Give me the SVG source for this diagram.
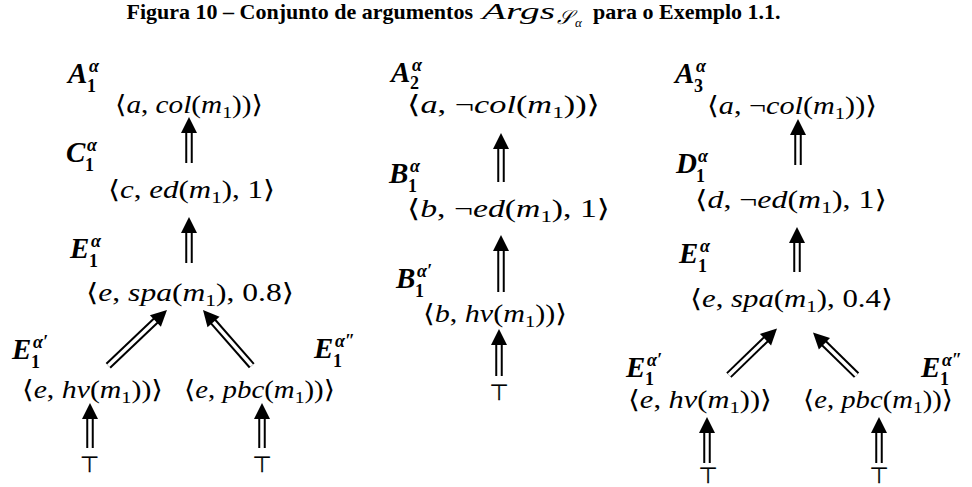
<svg xmlns="http://www.w3.org/2000/svg" xmlns:xlink="http://www.w3.org/1999/xlink" width="972" height="487" viewBox="0 0 972 487">
<style>
text{font-family:"Liberation Serif","DejaVu Serif",serif;fill:#000}
.title{font-weight:bold;font-size:22px}
.m{font-style:italic;font-size:23px}
.ms{font-style:italic;font-size:20px}
.ma{font-style:italic;font-size:13px}
.lbl{font-weight:bold;font-style:italic;font-size:29px}
.sp{font-style:italic;font-size:18px}
.sb{font-style:normal;font-size:18px}
.f{font-size:25px}
.i{font-style:italic}
.s{font-size:17px}
.top{font-family:"DejaVu Sans",sans-serif;font-size:22px;font-weight:normal;stroke:#000;stroke-width:0.3}
.dbl{stroke:#000;stroke-width:7.5}
.gap{stroke:#fff;stroke-width:3.5}
</style>
<defs>
<path id="hd" d="M0,0 L-8,16 L8,16 Z" fill="#000"/>
</defs>
<rect width="972" height="487" fill="#fff"/>
<g id="title">
<text class="title" x="473" y="19" text-anchor="end">Figura 10 – Conjunto de argumentos</text>
<text class="m" x="482" y="19" textLength="73" lengthAdjust="spacingAndGlyphs">Args</text>
<text class="ms" x="557" y="24">𝒮</text>
<text class="ma" x="575" y="27">α</text>
<text class="title" x="593" y="19">para o Exemplo 1.1.</text>
</g>

<g id="connectors">
<g transform="translate(189,117)"><line class="dbl" x1="0" y1="15" x2="0" y2="46"/><line class="gap" x1="0" y1="15" x2="0" y2="46"/><use href="#hd"/></g>
<g transform="translate(189,217)"><line class="dbl" x1="0" y1="15" x2="0" y2="46"/><line class="gap" x1="0" y1="15" x2="0" y2="46"/><use href="#hd"/></g>
<g transform="translate(167,310) rotate(46.5)"><line class="dbl" x1="0" y1="15" x2="0" y2="81"/><line class="gap" x1="0" y1="15" x2="0" y2="81"/><use href="#hd"/></g>
<g transform="translate(203,310) rotate(-41.2)"><line class="dbl" x1="0" y1="15" x2="0" y2="74"/><line class="gap" x1="0" y1="15" x2="0" y2="74"/><use href="#hd"/></g>
<g transform="translate(90,403)"><line class="dbl" x1="0" y1="15" x2="0" y2="45"/><line class="gap" x1="0" y1="15" x2="0" y2="45"/><use href="#hd"/></g>
<g transform="translate(262,403)"><line class="dbl" x1="0" y1="15" x2="0" y2="45"/><line class="gap" x1="0" y1="15" x2="0" y2="45"/><use href="#hd"/></g>
<g transform="translate(501,133)"><line class="dbl" x1="0" y1="15" x2="0" y2="49"/><line class="gap" x1="0" y1="15" x2="0" y2="49"/><use href="#hd"/></g>
<g transform="translate(501,235)"><line class="dbl" x1="0" y1="15" x2="0" y2="57"/><line class="gap" x1="0" y1="15" x2="0" y2="57"/><use href="#hd"/></g>
<g transform="translate(499,329)"><line class="dbl" x1="0" y1="15" x2="0" y2="47"/><line class="gap" x1="0" y1="15" x2="0" y2="47"/><use href="#hd"/></g>
<g transform="translate(798,119)"><line class="dbl" x1="0" y1="15" x2="0" y2="46"/><line class="gap" x1="0" y1="15" x2="0" y2="46"/><use href="#hd"/></g>
<g transform="translate(797,227)"><line class="dbl" x1="0" y1="15" x2="0" y2="45"/><line class="gap" x1="0" y1="15" x2="0" y2="45"/><use href="#hd"/></g>
<g transform="translate(777,328.5) rotate(45.9)"><line class="dbl" x1="0" y1="15" x2="0" y2="67"/><line class="gap" x1="0" y1="15" x2="0" y2="67"/><use href="#hd"/></g>
<g transform="translate(813,332.5) rotate(-45.6)"><line class="dbl" x1="0" y1="15" x2="0" y2="61"/><line class="gap" x1="0" y1="15" x2="0" y2="61"/><use href="#hd"/></g>
<g transform="translate(707,417)"><line class="dbl" x1="0" y1="15" x2="0" y2="46"/><line class="gap" x1="0" y1="15" x2="0" y2="46"/><use href="#hd"/></g>
<g transform="translate(879,417)"><line class="dbl" x1="0" y1="15" x2="0" y2="46"/><line class="gap" x1="0" y1="15" x2="0" y2="46"/><use href="#hd"/></g>
</g>

<!-- Left tree -->
<g id="L-A1">
<text class="lbl" x="68" y="83">A<tspan class="sp" x="89" y="72">α</tspan><tspan class="sb" x="87" y="92">1</tspan></text>
<text class="f" x="189" y="113" text-anchor="middle" textLength="148" lengthAdjust="spacingAndGlyphs">⟨<tspan class="i">a</tspan>, <tspan class="i">col</tspan>(<tspan class="i">m</tspan><tspan class="s" dy="5">1</tspan><tspan dy="-5">))⟩</tspan></text>
</g>
<g id="L-C1">
<text class="lbl" x="66" y="162">C<tspan class="sp" x="87" y="151">α</tspan><tspan class="sb" x="85" y="171">1</tspan></text>
<text class="f" x="191.5" y="198" text-anchor="middle" textLength="167" lengthAdjust="spacingAndGlyphs">⟨<tspan class="i">c</tspan>, <tspan class="i">ed</tspan>(<tspan class="i">m</tspan><tspan class="s" dy="5">1</tspan><tspan dy="-5">), 1⟩</tspan></text>
</g>
<g id="L-E1">
<text class="lbl" x="70" y="258">E<tspan class="sp" x="91" y="247">α</tspan><tspan class="sb" x="89" y="267">1</tspan></text>
<text class="f" x="190" y="301" text-anchor="middle" textLength="208" lengthAdjust="spacingAndGlyphs">⟨<tspan class="i">e</tspan>, <tspan class="i">spa</tspan>(<tspan class="i">m</tspan><tspan class="s" dy="5">1</tspan><tspan dy="-5">), 0.8⟩</tspan></text>
</g>
<g id="L-E1p">
<text class="lbl" x="12" y="359">E<tspan class="sp" x="33" y="348">α′</tspan><tspan class="sb" x="31" y="368">1</tspan></text>
<text class="f" x="92.5" y="398" text-anchor="middle" textLength="141" lengthAdjust="spacingAndGlyphs">⟨<tspan class="i">e</tspan>, <tspan class="i">hv</tspan>(<tspan class="i">m</tspan><tspan class="s" dy="5">1</tspan><tspan dy="-5">))⟩</tspan></text>
</g>
<g id="L-E1pp">
<text class="lbl" x="314" y="358">E<tspan class="sp" x="335" y="347">α″</tspan><tspan class="sb" x="333" y="367">1</tspan></text>
<text class="f" x="259.5" y="398" text-anchor="middle" textLength="151" lengthAdjust="spacingAndGlyphs">⟨<tspan class="i">e</tspan>, <tspan class="i">pbc</tspan>(<tspan class="i">m</tspan><tspan class="s" dy="5">1</tspan><tspan dy="-5">))⟩</tspan></text>
</g>
<g id="L-T1"><text class="top" x="89.5" y="472" text-anchor="middle">⊤</text></g>
<g id="L-T2"><text class="top" x="262" y="472" text-anchor="middle">⊤</text></g>

<!-- Middle tree -->
<g id="M-A2">
<text class="lbl" x="391" y="82">A<tspan class="sp" x="412" y="71">α</tspan><tspan class="sb" x="410" y="89">2</tspan></text>
<text class="f" x="503.5" y="113" text-anchor="middle" textLength="193" lengthAdjust="spacingAndGlyphs">⟨<tspan class="i">a</tspan>, ¬<tspan class="i">col</tspan>(<tspan class="i">m</tspan><tspan class="s" dy="5">1</tspan><tspan dy="-5">))⟩</tspan></text>
</g>
<g id="M-B1">
<text class="lbl" x="389" y="183">B<tspan class="sp" x="410" y="172">α</tspan><tspan class="sb" x="408" y="192">1</tspan></text>
<text class="f" x="508.5" y="217" text-anchor="middle" textLength="203" lengthAdjust="spacingAndGlyphs">⟨<tspan class="i">b</tspan>, ¬<tspan class="i">ed</tspan>(<tspan class="i">m</tspan><tspan class="s" dy="5">1</tspan><tspan dy="-5">), 1⟩</tspan></text>
</g>
<g id="M-B1p">
<text class="lbl" x="396" y="288">B<tspan class="sp" x="417" y="277">α′</tspan><tspan class="sb" x="415" y="297">1</tspan></text>
<text class="f" x="495" y="322" text-anchor="middle" textLength="144" lengthAdjust="spacingAndGlyphs">⟨<tspan class="i">b</tspan>, <tspan class="i">hv</tspan>(<tspan class="i">m</tspan><tspan class="s" dy="5">1</tspan><tspan dy="-5">))⟩</tspan></text>
</g>
<g id="M-T"><text class="top" x="499" y="400" text-anchor="middle">⊤</text></g>

<!-- Right tree -->
<g id="R-A3">
<text class="lbl" x="675" y="83">A<tspan class="sp" x="696" y="72">α</tspan><tspan class="sb" x="694" y="92">3</tspan></text>
<text class="f" x="792" y="114" text-anchor="middle" textLength="170" lengthAdjust="spacingAndGlyphs">⟨<tspan class="i">a</tspan>, ¬<tspan class="i">col</tspan>(<tspan class="i">m</tspan><tspan class="s" dy="5">1</tspan><tspan dy="-5">))⟩</tspan></text>
</g>
<g id="R-D1">
<text class="lbl" x="676" y="173">D<tspan class="sp" x="698" y="162">α</tspan><tspan class="sb" x="696" y="182">1</tspan></text>
<text class="f" x="791" y="208" text-anchor="middle" textLength="192" lengthAdjust="spacingAndGlyphs">⟨<tspan class="i">d</tspan>, ¬<tspan class="i">ed</tspan>(<tspan class="i">m</tspan><tspan class="s" dy="5">1</tspan><tspan dy="-5">), 1⟩</tspan></text>
</g>
<g id="R-E1">
<text class="lbl" x="679" y="263">E<tspan class="sp" x="700" y="252">α</tspan><tspan class="sb" x="698" y="272">1</tspan></text>
<text class="f" x="791.5" y="307" text-anchor="middle" textLength="203" lengthAdjust="spacingAndGlyphs">⟨<tspan class="i">e</tspan>, <tspan class="i">spa</tspan>(<tspan class="i">m</tspan><tspan class="s" dy="5">1</tspan><tspan dy="-5">), 0.4⟩</tspan></text>
</g>
<g id="R-E1p">
<text class="lbl" x="626" y="377">E<tspan class="sp" x="647" y="366">α′</tspan><tspan class="sb" x="645" y="385">1</tspan></text>
<text class="f" x="700" y="408" text-anchor="middle" textLength="144" lengthAdjust="spacingAndGlyphs">⟨<tspan class="i">e</tspan>, <tspan class="i">hv</tspan>(<tspan class="i">m</tspan><tspan class="s" dy="5">1</tspan><tspan dy="-5">))⟩</tspan></text>
</g>
<g id="R-E1pp">
<text class="lbl" x="921" y="377">E<tspan class="sp" x="942" y="366">α″</tspan><tspan class="sb" x="940" y="385">1</tspan></text>
<text class="f" x="878" y="408" text-anchor="middle" textLength="150" lengthAdjust="spacingAndGlyphs">⟨<tspan class="i">e</tspan>, <tspan class="i">pbc</tspan>(<tspan class="i">m</tspan><tspan class="s" dy="5">1</tspan><tspan dy="-5">))⟩</tspan></text>
</g>
<g id="R-T1"><text class="top" x="708" y="483" text-anchor="middle">⊤</text></g>
<g id="R-T2"><text class="top" x="879" y="483" text-anchor="middle">⊤</text></g>
</svg>
